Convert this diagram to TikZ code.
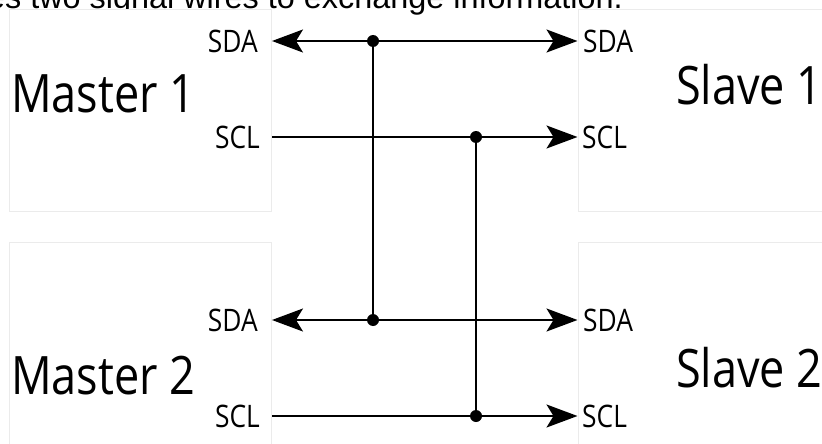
\documentclass[tikz,border=0pt]{standalone}
\usepackage{fontspec}
\setmainfont{Open Sans}
\newfontfamily\captionfont{Liberation Sans}
\usetikzlibrary{arrows.meta,positioning}
\newcommand\cond[1]{\scalebox{0.85}[1]{#1}}
\tikzset{
  box/.style={draw=black!8,fill=white,line width=1pt,minimum width=262,minimum height=202,inner sep=0},
  bigname/.style={font=\fontsize{53}{53}\selectfont,inner sep=0},
  port/.style={font=\fontsize{31}{31}\selectfont,inner sep=0},
  wire/.style={line width=1.8pt},
  junction/.style={circle,fill,inner sep=0,minimum size=12pt},
}

\begin{document}
\begin{tikzpicture}[x=1pt,y=-1pt,>={Stealth[length=31pt,width=23pt,inset=7pt]}]
\useasboundingbox (0,0) rectangle (822,444);
\clip (0,0) rectangle (822,444);
\fill[white] (0,0) rectangle (822,444);
\node[anchor=base east,font=\captionfont\fontsize{32.4}{32.4}\selectfont,inner sep=0] (cap) at (623,9) {uses two signal wires to exchange information.};
% the four devices
\node[box] (m1) at (140.5,110.5) {};
\node[box] (s1) at (709,110.5) {};
\node[box,minimum height=220] (m2) at (140.5,352) {};
\node[box,minimum height=220] (s2) at (709,352) {};
\node[bigname,anchor=west] (m1t) at (11,94) {\cond{Master 1}};
\node[bigname,anchor=west] (s1t) at (676,85) {\cond{Slave 1}};
\node[bigname,anchor=west] (m2t) at (11,376) {\cond{Master 2}};
\node[bigname,anchor=west] (s2t) at (676,368) {\cond{Slave 2}};
% ports
\node[port,anchor=east] (m1sda) at (258,41) {\cond{SDA}};
\node[port,anchor=east] (m1scl) at (260,137) {\cond{SCL}};
\node[port,anchor=east] (m2sda) at (258,320) {\cond{SDA}};
\node[port,anchor=east] (m2scl) at (260,416) {\cond{SCL}};
\node[port,anchor=west] (s1sda) at (583,41) {\cond{SDA}};
\node[port,anchor=west] (s1scl) at (582,137) {\cond{SCL}};
\node[port,anchor=west] (s2sda) at (583,320) {\cond{SDA}};
\node[port,anchor=west] (s2scl) at (582,416) {\cond{SCL}};
% bus lines
\draw[wire,<->] (m1.east |- m1sda) -- (s1.west |- s1sda);
\draw[wire,->] (m1.east |- m1scl) -- (s1.west |- s1scl);
\draw[wire,<->] (m2.east |- m2sda) -- (s2.west |- s2sda);
\draw[wire,->] (m2.east |- m2scl) -- (s2.west |- s2scl);
\node[junction] (j1) at (373,41) {};
\node[junction] (j2) at (476,137) {};
\node[junction] (j3) at (373,320) {};
\node[junction] (j4) at (476,416) {};
\draw[wire] (j1) -- (j3);
\draw[wire] (j2) -- (j4);
\end{tikzpicture}
\end{document}
